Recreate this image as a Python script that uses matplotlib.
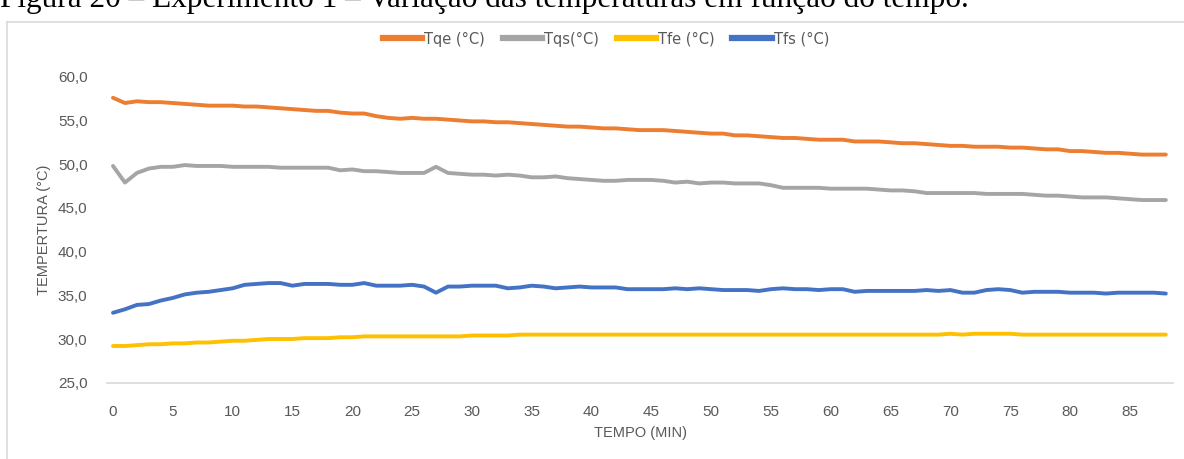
import numpy as np
import matplotlib
matplotlib.use("Agg")
import matplotlib.pyplot as plt
from matplotlib.lines import Line2D

# tempo em minutos (0 a 88)
tempo = list(range(89))

tqe = [57.6, 57.0, 57.2, 57.1, 57.1, 57.0, 56.9, 56.8, 56.7, 56.7,
       56.7, 56.6, 56.6, 56.5, 56.4, 56.3, 56.2, 56.1, 56.1, 55.9,
       55.8, 55.8, 55.5, 55.3, 55.2, 55.3, 55.2, 55.2, 55.1, 55.0,
       54.9, 54.9, 54.8, 54.8, 54.7, 54.6, 54.5, 54.4, 54.3, 54.3,
       54.2, 54.1, 54.1, 54.0, 53.9, 53.9, 53.9, 53.8, 53.7, 53.6,
       53.5, 53.5, 53.3, 53.3, 53.2, 53.1, 53.0, 53.0, 52.9, 52.8,
       52.8, 52.8, 52.6, 52.6, 52.6, 52.5, 52.4, 52.4, 52.3, 52.2,
       52.1, 52.1, 52.0, 52.0, 52.0, 51.9, 51.9, 51.8, 51.7, 51.7,
       51.5, 51.5, 51.4, 51.3, 51.3, 51.2, 51.1, 51.1, 51.1]

tqs = [49.8, 47.9, 49.0, 49.5, 49.7, 49.7, 49.9, 49.8, 49.8, 49.8,
       49.7, 49.7, 49.7, 49.7, 49.6, 49.6, 49.6, 49.6, 49.6, 49.3,
       49.4, 49.2, 49.2, 49.1, 49.0, 49.0, 49.0, 49.7, 49.0, 48.9,
       48.8, 48.8, 48.7, 48.8, 48.7, 48.5, 48.5, 48.6, 48.4, 48.3,
       48.2, 48.1, 48.1, 48.2, 48.2, 48.2, 48.1, 47.9, 48.0, 47.8,
       47.9, 47.9, 47.8, 47.8, 47.8, 47.6, 47.3, 47.3, 47.3, 47.3,
       47.2, 47.2, 47.2, 47.2, 47.1, 47.0, 47.0, 46.9, 46.7, 46.7,
       46.7, 46.7, 46.7, 46.6, 46.6, 46.6, 46.6, 46.5, 46.4, 46.4,
       46.3, 46.2, 46.2, 46.2, 46.1, 46.0, 45.9, 45.9, 45.9]

tfe = [29.2, 29.2, 29.3, 29.4, 29.4, 29.5, 29.5, 29.6, 29.6, 29.7,
       29.8, 29.8, 29.9, 30.0, 30.0, 30.0, 30.1, 30.1, 30.1, 30.2,
       30.2, 30.3, 30.3, 30.3, 30.3, 30.3, 30.3, 30.3, 30.3, 30.3,
       30.4, 30.4, 30.4, 30.4, 30.5, 30.5, 30.5, 30.5, 30.5, 30.5,
       30.5, 30.5, 30.5, 30.5, 30.5, 30.5, 30.5, 30.5, 30.5, 30.5,
       30.5, 30.5, 30.5, 30.5, 30.5, 30.5, 30.5, 30.5, 30.5, 30.5,
       30.5, 30.5, 30.5, 30.5, 30.5, 30.5, 30.5, 30.5, 30.5, 30.5,
       30.6, 30.5, 30.6, 30.6, 30.6, 30.6, 30.5, 30.5, 30.5, 30.5,
       30.5, 30.5, 30.5, 30.5, 30.5, 30.5, 30.5, 30.5, 30.5]

tfs = [33.0, 33.4, 33.9, 34.0, 34.4, 34.7, 35.1, 35.3, 35.4, 35.6,
       35.8, 36.2, 36.3, 36.4, 36.4, 36.1, 36.3, 36.3, 36.3, 36.2,
       36.2, 36.4, 36.1, 36.1, 36.1, 36.2, 36.0, 35.3, 36.0, 36.0,
       36.1, 36.1, 36.1, 35.8, 35.9, 36.1, 36.0, 35.8, 35.9, 36.0,
       35.9, 35.9, 35.9, 35.7, 35.7, 35.7, 35.7, 35.8, 35.7, 35.8,
       35.7, 35.6, 35.6, 35.6, 35.5, 35.7, 35.8, 35.7, 35.7, 35.6,
       35.7, 35.7, 35.4, 35.5, 35.5, 35.5, 35.5, 35.5, 35.6, 35.5,
       35.6, 35.3, 35.3, 35.6, 35.7, 35.6, 35.3, 35.4, 35.4, 35.4,
       35.3, 35.3, 35.3, 35.2, 35.3, 35.3, 35.3, 35.3, 35.2]

series = [
    ("Tqe (°C)", tqe, "#ED7D31"),
    ("Tqs(°C)", tqs, "#A5A5A5"),
    ("Tfe (°C)", tfe, "#FFC000"),
    ("Tfs (°C)", tfs, "#4472C4"),
]

W, H = 1184, 459
fig = plt.figure(figsize=(W / 100, H / 100), dpi=100)

# legenda da figura (cortada no topo da pagina)
fig.text(0.0, 1 - 7 / H,
         "Figura 20 – Experimento 1 – Variação das temperaturas em função do tempo.",
         family="Liberation Serif", fontsize=22.5, color="black",
         ha="left", va="baseline")

# moldura do grafico
fig.add_artist(Line2D([7 / W, 7 / W], [0, 1 - 22 / H], transform=fig.transFigure,
                      color="#D9D9D9", lw=1.2))
fig.add_artist(Line2D([7 / W, 1.0], [1 - 22 / H, 1 - 22 / H], transform=fig.transFigure,
                      color="#D9D9D9", lw=1.2))

ax = fig.add_axes([107 / W, 1 - 382.7 / H, (1173 - 107) / W, (382.7 - 76.8) / H])

for nome, valores, cor in series:
    ax.plot(tempo, valores, color=cor, lw=2.8, label=nome,
            solid_capstyle="round", solid_joinstyle="round")

ax.set_xlim(-0.5, 88.6)
ax.set_ylim(25, 60)

ax.set_yticks(np.arange(25, 61, 5))
ax.set_yticklabels([f"{v:.1f}".replace(".", ",") for v in np.arange(25, 61, 5)])
ax.set_xticks(range(0, 89, 5))

for s in ["top", "right", "left"]:
    ax.spines[s].set_visible(False)
ax.spines["bottom"].set_color("#D9D9D9")
ax.spines["bottom"].set_linewidth(1.2)

ax.tick_params(axis="both", length=0, labelcolor="#595959", labelsize=11)
ax.tick_params(axis="x", pad=16)
ax.tick_params(axis="y", pad=14)
for lbl in ax.get_xticklabels() + ax.get_yticklabels():
    lbl.set_family("Liberation Sans")

ax.set_xlabel("TEMPO (MIN)", family="Liberation Sans", fontsize=10.5,
              color="#595959", labelpad=5)
ax.set_ylabel("TEMPERTURA (°C)", family="Liberation Sans", fontsize=10.5,
              color="#595959", labelpad=5)

handles = [Line2D([0], [0], color=c, lw=4.5) for _, _, c in series]
fig.legend(handles, [n for n, _, _ in series], loc="center",
           bbox_to_anchor=(606 / W, 1 - 39 / H), ncol=4, frameon=False,
           prop={"family": "Liberation Sans Narrow", "size": 10.5},
           handlelength=2.7, handletextpad=0.15, columnspacing=1.2,
           labelcolor="#595959")

fig.savefig("out.png", dpi=100)
